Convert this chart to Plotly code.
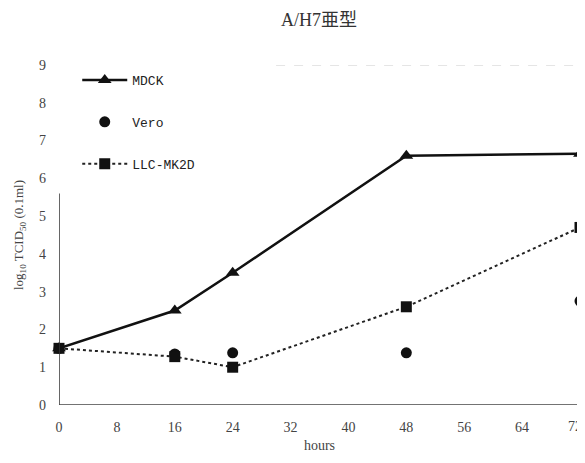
import plotly.graph_objects as go

hours = [0, 16, 24, 48, 72]
mdck = [1.5, 2.5, 3.5, 6.6, 6.65]
vero = [1.5, 1.35, 1.38, 1.38, 2.75]
llc = [1.5, 1.28, 1.0, 2.6, 4.7]
x_ticks = [0, 8, 16, 24, 32, 40, 48, 56, 64, 72]
y_ticks = [0, 1, 2, 3, 4, 5, 6, 7, 8, 9]

serif = "Liberation Serif, Times New Roman, serif"
mono = "Liberation Mono, DejaVu Sans Mono, monospace"

fig = go.Figure()
fig.add_trace(go.Scatter(x=hours, y=mdck, name="MDCK", mode="lines+markers",
                         line=dict(color="#111", width=2.5),
                         marker=dict(symbol="triangle-up", size=12, color="#111"),
                         legendgroup="a", cliponaxis=False))
fig.add_trace(go.Scatter(x=hours, y=vero, name="Vero", mode="markers",
                         marker=dict(symbol="circle", size=11, color="#111"),
                         legendgroup="b", cliponaxis=False))
fig.add_trace(go.Scatter(x=hours, y=llc, name="LLC-MK2D", mode="lines+markers",
                         line=dict(color="#222", width=2, dash="dot"),
                         marker=dict(symbol="square", size=11, color="#111"),
                         legendgroup="c", cliponaxis=False))

# axis frame lines
fig.add_shape(type="line", xref="x", yref="y", x0=0, x1=0, y0=0, y1=5.6,
              line=dict(color="#333", width=1.5))
fig.add_shape(type="line", xref="x", yref="y", x0=0, x1=72, y0=0, y1=0,
              line=dict(color="#444", width=1.5))
fig.add_shape(type="line", xref="x", yref="y", x0=72, x1=72, y0=0, y1=9,
              line=dict(color="#bbb", width=1))
fig.add_shape(type="line", xref="x", yref="y", x0=30, x1=72, y0=9, y1=9,
              line=dict(color="#ccc", width=1, dash="dash"))

# last x tick label (would be dropped by plotly at the very edge)
fig.add_annotation(x=x_ticks[-1], xref="x", y=0, yref="paper", text=str(x_ticks[-1]),
                   showarrow=False, yanchor="top", xanchor="right", xshift=4, yshift=-12,
                   font=dict(family=serif, size=14, color="#444"))

fig.update_layout(
    width=577, height=455,
    margin=dict(l=51, r=5, t=57, b=58),
    paper_bgcolor="white", plot_bgcolor="white",
    title=dict(text="A/H7亜型", x=0.539, xanchor="center", y=0.974, yanchor="middle",
               font=dict(family=serif + ", Noto Sans CJK JP", size=18, color="#333")),
    font=dict(family=serif, color="#333"),
    showlegend=True,
    legend=dict(x=0.035, y=1.0, xanchor="left", yanchor="top",
                bgcolor="rgba(255,255,255,0)", font=dict(family=mono, size=13, color="#222"),
                tracegroupgap=22, itemwidth=45),
    xaxis=dict(range=[0, 72], tickvals=x_ticks[:-1], ticktext=[str(v) for v in x_ticks[:-1]],
               showgrid=False, zeroline=False, showline=False, ticks="",
               ticklabelstandoff=12,
               tickfont=dict(family=serif, size=14, color="#444"),
               title=dict(text="hours", standoff=6, font=dict(family=serif, size=14, color="#444"))),
    yaxis=dict(range=[0, 9], tickvals=y_ticks, ticktext=[str(v) for v in y_ticks],
               showgrid=False, zeroline=False, showline=False, ticks="",
               ticklabelstandoff=12,
               tickfont=dict(family=serif, size=14, color="#444"),
               title=dict(text="log<sub>10</sub> TCID<sub>50</sub> (0.1ml)", standoff=12,
                          font=dict(family=serif, size=13, color="#444"))),
)

fig.write_html("out.html")
